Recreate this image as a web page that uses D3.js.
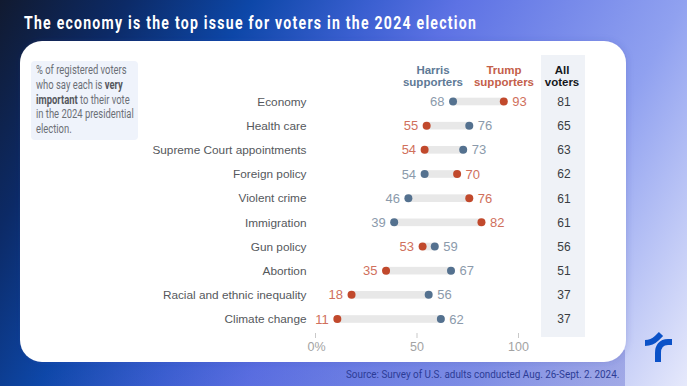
<!DOCTYPE html>
<html>
<head>
<meta charset="utf-8">
<script src="https://cdn.jsdelivr.net/npm/d3@7"></script>
<style>
  html, body { margin: 0; padding: 0; }
  body {
    width: 687px; height: 386px; overflow: hidden;
    background: linear-gradient(119deg, #111a30 0%, #0c2a66 14%, #0d47a8 28%, #3a5fd0 41%, #5d72e4 51%, #90a1f0 76%, #e6e9fb 100%);
  }
  svg { display: block; }
  text { font-family: "Liberation Sans", sans-serif; }
</style>
</head>
<body>
<script>
var issues = ["Economy", "Health care", "Supreme Court appointments", "Foreign policy", "Violent crime",
  "Immigration", "Gun policy", "Abortion", "Racial and ethnic inequality", "Climate change"];
var harris = [68, 76, 73, 54, 46, 39, 59, 67, 56, 62];
var trump = [93, 55, 54, 70, 76, 82, 53, 35, 18, 11];
var allVoters = [81, 65, 63, 62, 61, 61, 56, 51, 37, 37];
var axisTicks = [0, 50, 100];
var noteLines = [
  [["% of registered voters", 400]],
  [["who say each is ", 400], ["very", 700]],
  [["important", 700], [" to their vote", 400]],
  [["in the 2024 presidential", 400]],
  [["election.", 400]]
];

var blue = "#54718f", red = "#c1492c", blueText = "#8b9aab", redText = "#d0705c";

var svg = d3.select("body").append("svg").attr("width", 687).attr("height", 386);

var defs = svg.append("defs");
var band = defs.append("linearGradient").attr("id", "band");
band.append("stop").attr("offset", "0%").attr("stop-color", "#3c46be").attr("stop-opacity", 0);
band.append("stop").attr("offset", "100%").attr("stop-color", "#3c46be").attr("stop-opacity", 0.3);
var shadow = defs.append("filter").attr("id", "panelShadow")
  .attr("x", "-5%").attr("y", "-5%").attr("width", "110%").attr("height", "110%");
shadow.append("feDropShadow")
  .attr("dx", 1).attr("dy", 0).attr("stdDeviation", 3)
  .attr("flood-color", "#3c46a0").attr("flood-opacity", 0.2);

// darker strip under the panel
svg.append("rect")
  .attr("x", 20).attr("y", 350).attr("width", 605).attr("height", 36)
  .attr("fill", "url(#band)");

svg.append("text")
  .attr("transform", "translate(24,29.3) scale(0.78,1)")
  .attr("fill", "#fff")
  .style("font-family", "Roboto")
  .style("font-weight", 700)
  .style("font-size", "18px")
  .style("letter-spacing", "1.62px")
  .text("The economy is the top issue for voters in the 2024 election");

// white panel
svg.append("rect")
  .attr("x", 20).attr("y", 41).attr("width", 606).attr("height", 321)
  .attr("rx", 22).attr("fill", "#fff")
  .attr("filter", "url(#panelShadow)");

// note box
svg.append("rect")
  .attr("x", 31).attr("y", 61).attr("width", 107).attr("height", 79)
  .attr("rx", 4).attr("fill", "#eff3fb");

var note = svg.append("g");
noteLines.forEach(function (parts, i) {
  var t = note.append("text")
    .attr("transform", "translate(36," + (74 + i * 14.8) + ") scale(0.725,1)")
    .attr("fill", "#6b6f76")
    .style("font-family", "Roboto")
    .style("font-size", "13px");
  parts.forEach(function (p) {
    t.append("tspan")
      .attr("font-weight", p[1])
      .attr("fill", p[1] == 700 ? "#55585e" : "#6b6f76")
      .style("white-space", "pre")
      .text(p[0]);
  });
});

var x = d3.scaleLinear().domain([0, 100]).range([315, 518]);
var y = d3.scalePoint().domain(issues).range([101.5, 319]);

// all voters column
svg.append("rect")
  .attr("x", 541).attr("y", 55).attr("width", 44).attr("height", 282)
  .attr("fill", "#eff2f7");

// column headers
function header(cx, lines, color) {
  lines.forEach(function (s, i) {
    svg.append("text")
      .attr("x", cx).attr("y", 73.5 + i * 12.5)
      .attr("text-anchor", "middle")
      .attr("fill", color)
      .attr("font-weight", 700)
      .style("font-size", "11.5px")
      .text(s);
  });
}
header(433, ["Harris", "supporters"], "#5e7a96");
header(504, ["Trump", "supporters"], "#c4604a");
header(562, ["All", "voters"], "#15181c");

// category labels
svg.selectAll(".issue").data(issues).enter().append("text")
  .attr("class", "issue")
  .attr("x", 306.5)
  .attr("y", function (d) { return y(d) + 4.2; })
  .attr("text-anchor", "end")
  .attr("fill", "#55585c")
  .style("font-size", "11.8px")
  .text(function (d) { return d; });

var rows = issues.map(function (d, i) {
  return { issue: d, h: harris[i], t: trump[i], all: allVoters[i] };
});

// connector bars
svg.selectAll(".bar").data(rows).enter().append("rect")
  .attr("class", "bar")
  .attr("x", function (d) { return x(Math.min(d.h, d.t)); })
  .attr("y", function (d) { return y(d.issue) - 3.8; })
  .attr("width", function (d) { return Math.abs(x(d.h) - x(d.t)); })
  .attr("height", 7.6)
  .attr("fill", "#e8e8e8");

svg.selectAll(".hdot").data(rows).enter().append("circle")
  .attr("class", "hdot")
  .attr("cx", function (d) { return x(d.h); })
  .attr("cy", function (d) { return y(d.issue); })
  .attr("r", 4).attr("fill", blue);

svg.selectAll(".tdot").data(rows).enter().append("circle")
  .attr("class", "tdot")
  .attr("cx", function (d) { return x(d.t); })
  .attr("cy", function (d) { return y(d.issue); })
  .attr("r", 4).attr("fill", red);

// value labels go on the outside of each dumbbell
function valueLabels(key, other, color) {
  svg.selectAll(".v" + key).data(rows).enter().append("text")
    .attr("class", "v" + key)
    .attr("x", function (d) { return x(d[key]) + (d[key] > d[other] ? 8.5 : -8.5); })
    .attr("y", function (d) { return y(d.issue) + 4.6; })
    .attr("text-anchor", function (d) { return d[key] > d[other] ? "start" : "end"; })
    .attr("fill", color)
    .style("font-size", "13px")
    .text(function (d) { return d[key]; });
}
valueLabels("h", "t", blueText);
valueLabels("t", "h", redText);

svg.selectAll(".all").data(rows).enter().append("text")
  .attr("class", "all")
  .attr("x", 564)
  .attr("y", function (d) { return y(d.issue) + 4.4; })
  .attr("text-anchor", "middle")
  .attr("fill", "#3a3d42")
  .style("font-size", "12px")
  .text(function (d) { return d.all; });

// axis
var axis = svg.append("g")
  .attr("transform", "translate(0,333)")
  .call(d3.axisBottom(x).tickValues(axisTicks).tickSize(5).tickSizeOuter(0)
    .tickFormat(function (d) { return d === 0 ? "0%" : d; }));
axis.select(".domain").remove();
axis.selectAll(".tick line").attr("stroke", "#c9c9c9");
axis.selectAll(".tick text")
  .attr("y", 9).attr("dy", "0.71em")
  .attr("fill", "#a3a3a3")
  .style("font-family", "Liberation Sans")
  .style("font-size", "12.5px");
axis.selectAll(".tick").filter(function (d) { return d === 0; }).select("text").attr("x", 1);

svg.append("text")
  .attr("transform", "translate(346,378) scale(0.9,1)")
  .attr("fill", "#2c3c96")
  .style("font-family", "Roboto")
  .style("font-size", "10.97px")
  .text("Source: Survey of U.S. adults conducted Aug. 26-Sept. 2. 2024.");

// logo
var logo = svg.append("g").attr("fill", "none").attr("stroke", "#0b52c8").attr("stroke-width", 6);
logo.append("path").attr("d", "M645,343 C651,343 654,341 657,338 L661,334");
logo.append("path").attr("d", "M672,342 L668,342 C661,342 658,347 658,353 L658,362");
</script>
</body>
</html>
